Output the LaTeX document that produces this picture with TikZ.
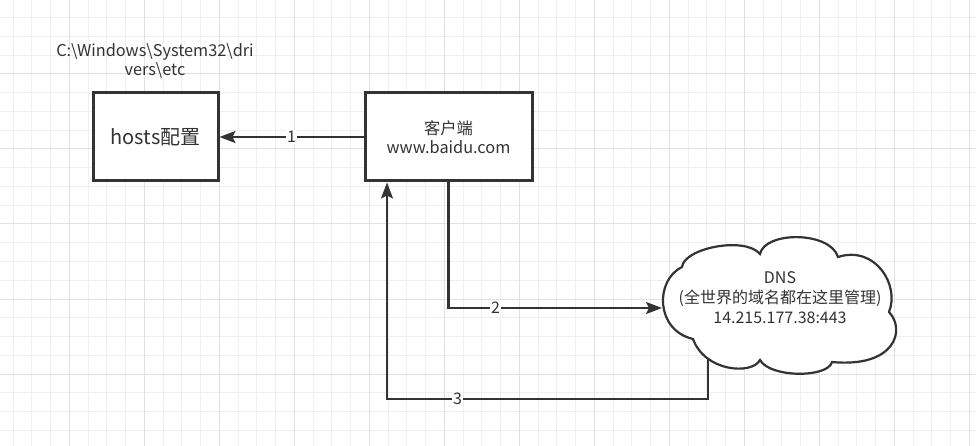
\documentclass[tikz,border=0pt]{standalone}
\usepackage{fontspec}
\setmainfont{Noto Sans CJK SC}
\usetikzlibrary{arrows.meta}
\definecolor{ink}{HTML}{333333}
\definecolor{gridminor}{HTML}{EFEFEF}
\definecolor{gridmajor}{HTML}{E1E1E1}

\begin{document}
\begin{tikzpicture}[x=1pt,y=-1pt,
  box/.style={draw=ink, line width=3pt, fill=white, inner sep=0pt},
  conn/.style={draw=ink, line width=2.2pt, -{Stealth[length=16pt,width=12pt,inset=3pt]}},
  lbl/.style={fill=white, text=ink, inner sep=1pt, font=\fontsize{16}{19}\selectfont},
  txt/.style={text=ink, align=center, font=\fontsize{16.3}{19}\selectfont}]
  \useasboundingbox (0,0) rectangle (976,446);

  % grid
  \foreach \i in {0,...,53} \draw[gridminor, line width=1pt] (-5.6+18.75*\i,0) -- (-5.6+18.75*\i,446);
  \foreach \j in {0,...,24} \draw[gridminor, line width=1pt] (0,-1+18.75*\j) -- (976,-1+18.75*\j);
  \foreach \i in {0,...,13} \draw[gridmajor, line width=1pt] (-5.6+75*\i,0) -- (-5.6+75*\i,446);
  \foreach \j in {0,...,6} \draw[gridmajor, line width=1pt] (0,-1+75*\j) -- (976,-1+75*\j);

  \node[box, minimum width=125pt, minimum height=88pt, text=ink,
    font=\fontsize{20}{24}\selectfont] (hosts) at (155.5,137) {hosts配置};
  \node[txt] (hostspath) at (155,61)
    {C:\textbackslash Windows\textbackslash System32\textbackslash dri\\vers\textbackslash etc};
  \node[box, txt, minimum width=167pt, minimum height=88pt] (client) at (448.5,137)
    {客户端\\www.baidu.com};

  % cloud
  \draw[ink, line width=2.2pt, fill=white] (682,267)
    .. controls (684,248) and (745,236) .. (760,254)
    .. controls (765,231) and (830,231) .. (838,257)
    .. controls (875,245) and (900,285) .. (889,312)
    .. controls (906,330) and (895,368) .. (832,362)
    .. controls (828,378) and (770,378) .. (760,360)
    .. controls (752,375) and (705,372) .. (693,339)
    .. controls (655,330) and (655,280) .. (682,267) -- cycle;
  \node[txt, font=\fontsize{16}{20}\selectfont] (dns) at (780,298)
    {DNS\\(全世界的域名都在这里管理)\\14.215.177.38:443};
  \coordinate (dnsleft) at (662,308);
  \coordinate (dnsbottom) at (708,358);
  \coordinate (back) at (387,399);

  \draw[conn] (client.west) -- node[lbl]{1} (hosts.east);
  \draw[conn] (client.south) |- node[lbl, pos=0.61]{2} (dnsleft);
  \draw[conn] (dnsbottom) |- node[lbl, pos=0.89]{3} (back) -- (back |- client.south);
\end{tikzpicture}
\end{document}
